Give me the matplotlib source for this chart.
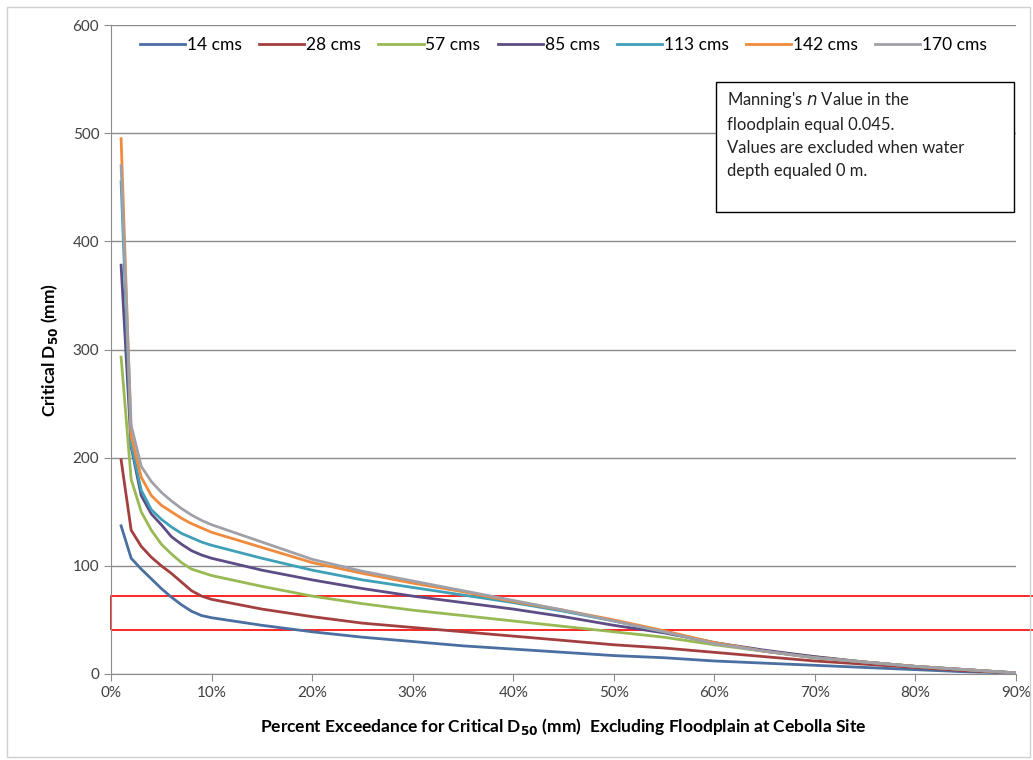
import matplotlib.pyplot as plt
from matplotlib.patches import Rectangle
from matplotlib.ticker import FuncFormatter

plt.rcParams['font.family'] = ['Lato', 'DejaVu Sans']

# percent exceedance (%)
pct = [1, 2, 3, 4, 5, 6, 7, 8, 9, 10, 15, 20, 25, 30, 35, 40, 45, 50, 55, 60, 65, 70, 75, 80, 85, 90]

# critical D50 (mm) per discharge
d14 = [137, 107, 97, 88, 79, 71, 64, 58, 54, 52, 45, 39, 34, 30, 26, 23, 20, 17, 15, 12, 10, 8, 6, 4, 2, 1]
d28 = [198, 133, 118, 108, 100, 93, 85, 77, 72, 69, 60, 53, 47, 43, 39, 35, 31, 27, 24, 20, 16, 12, 9, 6, 3, 1]
d57 = [293, 180, 150, 133, 120, 111, 103, 97, 94, 91, 81, 72, 65, 59, 54, 49, 44, 39, 34, 27, 21, 16, 11, 7, 4, 1]
d85 = [378, 210, 165, 148, 138, 127, 120, 114, 110, 107, 96, 87, 79, 72, 66, 60, 53, 45, 38, 29, 22, 16, 11, 7, 4, 1]
d113 = [455, 212, 170, 152, 143, 136, 130, 126, 122, 119, 107, 96, 87, 80, 73, 66, 58, 49, 39, 29, 21, 15, 11, 7, 4, 1]
d142 = [495, 220, 182, 165, 156, 150, 144, 139, 135, 131, 117, 103, 93, 84, 76, 67, 59, 50, 40, 29, 21, 15, 11, 7, 4, 1]
d170 = [470, 230, 192, 178, 168, 160, 153, 147, 142, 138, 122, 106, 95, 86, 77, 68, 59, 49, 39, 28, 21, 15, 11, 7, 4, 1]

series = [d14, d28, d57, d85, d113, d142, d170]
labels = ["14 cms", "28 cms", "57 cms", "85 cms", "113 cms", "142 cms", "170 cms"]
colors = ["#4A6FA0", "#A3403F", "#98B954", "#5E4C85", "#3FA0B8", "#F08A3C", "#A0A0A8"]

fig = plt.figure(figsize=(10.33, 7.6), dpi=100)
fig.patches.append(Rectangle((0.007, 0.004), 0.990, 0.987, transform=fig.transFigure,
                             fill=False, edgecolor="#d0d0d0", lw=1))
ax = fig.add_axes([0.1075, 0.1132, 0.876, 0.8538])

for ys, lab, c in zip(series, labels, colors):
    ax.plot(pct, ys, color=c, lw=2, label=lab)

ax.set_xlim(0, 90)
ax.set_ylim(0, 600)
ax.set_xticks(range(0, 91, 10))
ax.set_yticks(range(0, 601, 100))
ax.xaxis.set_major_formatter(FuncFormatter(lambda v, p: f"{int(v)}%"))
ax.grid(axis="y", color="#8c8c8c", lw=1)
ax.set_axisbelow(True)
for s in ["top", "right"]:
    ax.spines[s].set_visible(False)
for s in ["left", "bottom"]:
    ax.spines[s].set_color("#8c8c8c")
ax.tick_params(axis="both", colors="#8c8c8c", labelcolor="#404040", labelsize=11, length=5)

ax.set_xlabel("Percent Exceedance for Critical D$_{\\mathbf{50}}$ (mm)  Excluding Floodplain at Cebolla Site",
              fontsize=12.5, fontweight="bold", labelpad=12)
ax.set_ylabel("Critical D$_{\\mathbf{50}}$ (mm)", fontsize=12.5, fontweight="bold", labelpad=9)

ax.legend(loc="upper center", ncol=7, frameon=False, fontsize=12.5, handlelength=2.6,
          handletextpad=0.1, columnspacing=1.0, bbox_to_anchor=(0.5, 1.005))

# note box
ax.add_patch(Rectangle((0.668, 0.712), 0.330, 0.200, transform=ax.transAxes,
                       fill=True, facecolor="white", edgecolor="black", lw=1, zorder=5))
ax.text(0.681, 0.900, "Manning's $\\it{n}$ Value in the\nfloodplain equal 0.045.\n"
        "Values are excluded when water\ndepth equaled 0 m.",
        transform=ax.transAxes, va="top", ha="left", fontsize=12, linespacing=1.55,
        color="#222222", zorder=6)

# red highlight band
ax.add_patch(Rectangle((0, 41), 93, 31, fill=False, edgecolor="red", lw=1.2, clip_on=False))

fig.savefig("out.png", dpi=100)
